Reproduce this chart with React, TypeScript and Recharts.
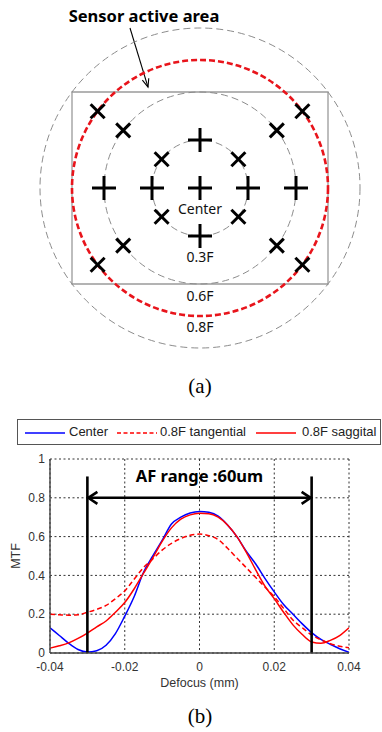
import React from 'react';
import {
  ScatterChart,
  Scatter,
  LineChart,
  Line,
  XAxis,
  YAxis,
  CartesianGrid,
  ReferenceDot,
  ReferenceArea,
  ReferenceLine,
} from 'recharts';

// ---- (a) field layout, in units of the full image height F ----
const GRAY_RINGS = [0.3, 0.6, 1.0];
const ACTIVE_RING = 0.8;
const SENSOR_HALF_W = 0.8;
const SENSOR_HALF_H = 0.6;
const PX_PER_F = 160;

const PLUS_POINTS = [
  { x: 0, y: 0 },
  { x: -0.3, y: 0 },
  { x: 0.3, y: 0 },
  { x: -0.6, y: 0 },
  { x: 0.6, y: 0 },
  { x: 0, y: 0.3 },
  { x: 0, y: -0.3 },
];

const CROSS_POINTS = [
  { x: -0.24, y: 0.18 },
  { x: 0.24, y: 0.18 },
  { x: -0.24, y: -0.18 },
  { x: 0.24, y: -0.18 },
  { x: -0.48, y: 0.36 },
  { x: 0.48, y: 0.36 },
  { x: -0.48, y: -0.36 },
  { x: 0.48, y: -0.36 },
  { x: -0.64, y: 0.48 },
  { x: 0.64, y: 0.48 },
  { x: -0.64, y: -0.48 },
  { x: 0.64, y: -0.48 },
];

const FIELD_LABELS = [
  { x: 0, y: -0.125, text: 'Center' },
  { x: 0, y: -0.43, text: '0.3F' },
  { x: 0, y: -0.67, text: '0.6F' },
  { x: 0, y: -0.865, text: '0.8F' },
];

// ---- (b) through-focus MTF ----
const DEFOCUS = [
  -0.04, -0.0375, -0.035, -0.0325, -0.03, -0.0275, -0.025, -0.0225, -0.02, -0.0175, -0.015,
  -0.0125, -0.01, -0.0075, -0.005, -0.0025, 0, 0.0025, 0.005, 0.0075, 0.01, 0.0125, 0.015,
  0.0175, 0.02, 0.0225, 0.025, 0.0275, 0.03, 0.0325, 0.035, 0.0375, 0.04,
];
const CENTER = [
  0.13, 0.09, 0.05, 0.018, 0.005, 0.012, 0.04, 0.1, 0.19, 0.29, 0.415,
  0.5, 0.58, 0.665, 0.7, 0.722, 0.73, 0.725, 0.705, 0.66, 0.6, 0.525, 0.46,
  0.385, 0.315, 0.25, 0.2, 0.15, 0.105, 0.07, 0.045, 0.022, 0.004,
];
const TANGENTIAL = [
  0.2, 0.197, 0.195, 0.197, 0.21, 0.225, 0.245, 0.28, 0.32, 0.38, 0.44,
  0.485, 0.53, 0.565, 0.59, 0.607, 0.613, 0.605, 0.585, 0.54, 0.49, 0.44, 0.39,
  0.34, 0.29, 0.23, 0.17, 0.13, 0.093, 0.068, 0.048, 0.035, 0.027,
];
const SAGGITAL = [
  0.025, 0.037, 0.052, 0.075, 0.103, 0.135, 0.165, 0.21, 0.26, 0.33, 0.41,
  0.49, 0.575, 0.645, 0.69, 0.712, 0.72, 0.718, 0.7, 0.66, 0.6, 0.52, 0.43,
  0.345, 0.28, 0.21, 0.145, 0.095, 0.057, 0.05, 0.065, 0.09, 0.13,
];
const X_TICKS = [-0.04, -0.02, 0, 0.02, 0.04];
const Y_TICKS = [0, 0.2, 0.4, 0.6, 0.8, 1];
const AF_LIMITS = [-0.03, 0.03];

const SERIES = [
  { key: 'center', name: 'Center', color: '#0000ff', dash: undefined },
  { key: 'tangential', name: '0.8F tangential', color: '#ff0000', dash: '5 3' },
  { key: 'saggital', name: '0.8F saggital', color: '#ff0000', dash: undefined },
];

const mtfData = DEFOCUS.map((x, i) => ({
  x,
  center: CENTER[i],
  tangential: TANGENTIAL[i],
  saggital: SAGGITAL[i],
}));

const PlusMark = (p: any) => (
  <g stroke="#000" strokeWidth={3}>
    <line x1={p.cx - 12} y1={p.cy} x2={p.cx + 12} y2={p.cy} />
    <line x1={p.cx} y1={p.cy - 12} x2={p.cx} y2={p.cy + 12} />
  </g>
);

const CrossMark = (p: any) => (
  <g stroke="#000" strokeWidth={3}>
    <line x1={p.cx - 7} y1={p.cy - 7} x2={p.cx + 7} y2={p.cy + 7} />
    <line x1={p.cx - 7} y1={p.cy + 7} x2={p.cx + 7} y2={p.cy - 7} />
  </g>
);

const FieldLabel = (p: any) => (
  <text
    x={p.cx}
    y={p.cy}
    textAnchor="middle"
    dominantBaseline="central"
    fontFamily="'Noto Sans', sans-serif"
    fontSize={14}
    fill="#111"
  >
    {p.payload.text}
  </text>
);

const PointerArrow = (p: any) => {
  const { x1, y1, x2, y2 } = p;
  const ang = Math.atan2(y2 - y1, x2 - x1);
  const len = 9;
  const a1 = ang + Math.PI - 0.38;
  const a2 = ang + Math.PI + 0.38;
  return (
    <g stroke="#000" strokeWidth={1.1} fill="none">
      <line x1={x1} y1={y1} x2={x2} y2={y2} />
      <polyline
        points={`${x2 + len * Math.cos(a1)},${y2 + len * Math.sin(a1)} ${x2},${y2} ${
          x2 + len * Math.cos(a2)
        },${y2 + len * Math.sin(a2)}`}
      />
    </g>
  );
};

const DoubleArrow = (p: any) => {
  const l = Math.min(p.x1, p.x2);
  const r = Math.max(p.x1, p.x2);
  const y = p.y1;
  return (
    <g stroke="#000" strokeWidth={2.6} fill="none">
      <line x1={l} y1={y} x2={r} y2={y} />
      <polyline points={`${l + 10},${y - 6} ${l + 1},${y} ${l + 10},${y + 6}`} />
      <polyline points={`${r - 10},${y - 6} ${r - 1},${y} ${r - 10},${y + 6}`} />
    </g>
  );
};

const BoldText = (text: string, size: number) => (p: any) => (
  <text
    x={p.cx}
    y={p.cy}
    textAnchor="middle"
    fontFamily="'Noto Sans', sans-serif"
    fontWeight={700}
    fontSize={size}
    fill="#000"
  >
    {text}
  </text>
);

const tickStyle = { fontFamily: "'Liberation Sans', Arial, sans-serif", fontSize: 12, fill: '#333' };

function FieldDiagram() {
  return (
    <ScatterChart width={382} height={360} margin={{ top: 0, right: 0, bottom: 0, left: 0 }}>
      <XAxis type="number" dataKey="x" hide domain={[-1.25, 1.1375]} allowDataOverflow />
      <YAxis type="number" dataKey="y" hide domain={[-1.075, 1.175]} allowDataOverflow />
      {GRAY_RINGS.map((r) => (
        <ReferenceDot
          key={r}
          x={0}
          y={0}
          r={r * PX_PER_F}
          fill="none"
          stroke="#8c8c8c"
          strokeWidth={1}
          strokeDasharray="7 4"
        />
      ))}
      <ReferenceArea
        x1={-SENSOR_HALF_W}
        x2={SENSOR_HALF_W}
        y1={-SENSOR_HALF_H}
        y2={SENSOR_HALF_H}
        fill="none"
        fillOpacity={0}
        stroke="#9a9a9a"
        strokeWidth={1.3}
      />
      <ReferenceDot
        x={0}
        y={0}
        r={ACTIVE_RING * PX_PER_F}
        fill="none"
        stroke="#e8141b"
        strokeWidth={2.6}
        strokeDasharray="6 3"
      />
      <ReferenceLine
        segment={[
          { x: -0.4375, y: 1.0 },
          { x: -0.325, y: 0.63 },
        ]}
        shape={PointerArrow}
      />
      <ReferenceDot x={-0.35} y={1.04} r={0} shape={BoldText('Sensor active area', 16.5)} />
      <Scatter data={PLUS_POINTS} shape={PlusMark} isAnimationActive={false} />
      <Scatter data={CROSS_POINTS} shape={CrossMark} isAnimationActive={false} />
      <Scatter data={FIELD_LABELS} shape={FieldLabel} isAnimationActive={false} />
    </ScatterChart>
  );
}

function MtfLegend() {
  const items = [
    { line: 7, text: 51 },
    { line: 99, text: 142 },
    { line: 238, text: 284 },
  ];
  return (
    <div
      style={{
        position: 'absolute',
        left: 17,
        top: 419,
        width: 362,
        height: 24,
        border: '1px solid #555',
        background: '#fff',
        fontFamily: "'Liberation Sans', Arial, sans-serif",
        fontSize: 13,
        color: '#222',
      }}
    >
      {SERIES.map((s, i) => (
        <React.Fragment key={s.key}>
          <svg
            width={40}
            height={4}
            style={{ position: 'absolute', left: items[i].line, top: 11 }}
          >
            <line
              x1={0}
              y1={2}
              x2={40}
              y2={2}
              stroke={s.color}
              strokeWidth={1.6}
              strokeDasharray={s.dash ? '4 2.5' : undefined}
            />
          </svg>
          <span style={{ position: 'absolute', left: items[i].text, top: 4, lineHeight: '15px' }}>
            {s.name}
          </span>
        </React.Fragment>
      ))}
    </div>
  );
}

function MtfChart() {
  return (
    <LineChart
      width={382}
      height={300}
      data={mtfData}
      margin={{ top: 59, right: 33, bottom: 7, left: 10 }}
    >
      <CartesianGrid stroke="#333" strokeDasharray="2 2.5" />
      <XAxis
        type="number"
        dataKey="x"
        domain={[-0.04, 0.04]}
        ticks={X_TICKS}
        allowDataOverflow
        height={40}
        tick={tickStyle}
        tickLine={false}
        tickSize={3}
        tickMargin={6}
        axisLine={{ stroke: '#444', strokeWidth: 1.4 }}
        label={{
          content: (p: any) => (
            <text
              x={p.viewBox.x + p.viewBox.width / 2}
              y={p.viewBox.y + 34}
              textAnchor="middle"
              style={{ ...tickStyle, fontSize: 12.5 }}
            >
              Defocus (mm)
            </text>
          ),
        }}
      />
      <YAxis
        type="number"
        domain={[0, 1]}
        ticks={Y_TICKS}
        allowDataOverflow
        width={40}
        tick={tickStyle}
        tickLine={false}
        tickSize={3}
        tickMargin={2}
        axisLine={{ stroke: '#444', strokeWidth: 1.4 }}
        label={{
          content: (p: any) => {
            const cx = p.viewBox.x + 6;
            const cy = p.viewBox.y + p.viewBox.height / 2;
            return (
              <text
                x={cx}
                y={cy}
                transform={`rotate(-90 ${cx} ${cy})`}
                textAnchor="middle"
                dominantBaseline="central"
                style={{ ...tickStyle, fontSize: 12.5 }}
              >
                MTF
              </text>
            );
          },
        }}
      />
      {SERIES.map((s) => (
        <Line
          key={s.key}
          dataKey={s.key}
          name={s.name}
          type="monotone"
          stroke={s.color}
          strokeWidth={1.5}
          strokeDasharray={s.dash}
          dot={false}
          activeDot={false}
          isAnimationActive={false}
        />
      ))}
      {AF_LIMITS.map((x) => (
        <ReferenceLine
          key={x}
          segment={[
            { x, y: 0 },
            { x, y: 0.91 },
          ]}
          stroke="#000"
          strokeWidth={2.6}
        />
      ))}
      <ReferenceLine
        segment={[
          { x: AF_LIMITS[0], y: 0.8 },
          { x: AF_LIMITS[1], y: 0.8 },
        ]}
        shape={DoubleArrow}
      />
      <ReferenceDot x={0} y={0.883} r={0} shape={BoldText('AF range :60um', 16.5)} />
    </LineChart>
  );
}

const captionStyle: React.CSSProperties = {
  position: 'absolute',
  left: 0,
  width: 400,
  textAlign: 'center',
  fontFamily: "'Liberation Serif', 'Times New Roman', serif",
  fontSize: 21,
  lineHeight: '24px',
  color: '#000',
};

export default function App() {
  return (
    <div
      style={{
        position: 'absolute',
        left: 0,
        top: 0,
        width: 382,
        height: 732,
        background: '#fff',
        overflow: 'hidden',
      }}
    >
      <div style={{ position: 'absolute', left: 0, top: 0 }}>
        <FieldDiagram />
      </div>
      <div style={{ ...captionStyle, top: 374 }}>(a)</div>
      <div style={{ position: 'absolute', left: 0, top: 400 }}>
        <MtfChart />
      </div>
      <MtfLegend />
      <div style={{ ...captionStyle, top: 704 }}>(b)</div>
    </div>
  );
}
